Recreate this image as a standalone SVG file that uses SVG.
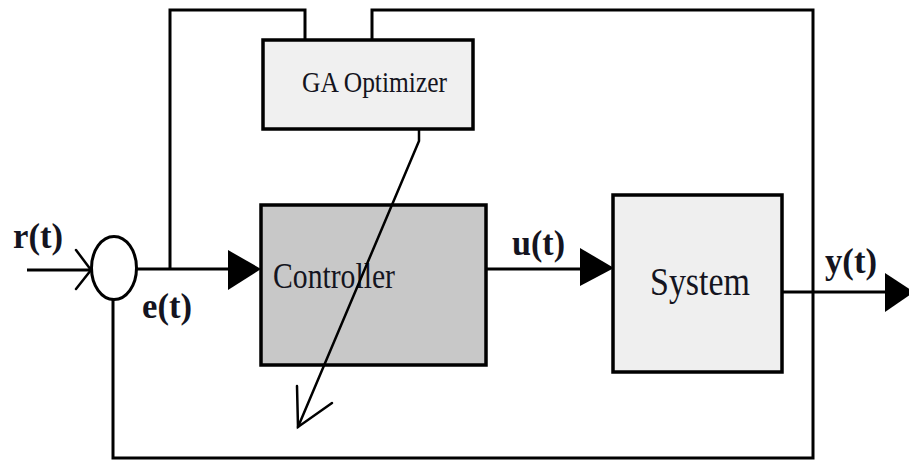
<svg xmlns="http://www.w3.org/2000/svg" width="909" height="461" viewBox="0 0 909 461">
  <style>
    .wire { fill: none; stroke: #000; stroke-width: 3; stroke-linejoin: miter; }
    .thin { fill: none; stroke: #000; stroke-width: 2.5; stroke-linecap: round; }
    .box { stroke: #000; stroke-width: 3.5; }
    .head { fill: #000; }
    .name { font-family: "Liberation Serif", "Times New Roman", serif; fill: #141420; }
    .sig { font-family: "Liberation Serif", "Times New Roman", serif; font-weight: bold; font-size: 36px; fill: #141420; }
  </style>
  <rect width="909" height="461" fill="#fff"/>

  <!-- connectors -->
  <g id="connectors">
    <!-- r(t) into summing junction -->
    <path class="wire" d="M27 270 H91"/>
    <path class="thin" d="M76 250 L91 270 L76 289"/>
    <!-- e(t) from junction to controller -->
    <path class="wire" d="M136 269 H230"/>
    <polygon class="head" points="228,250 261,269 228,290"/>
    <!-- e(t) tapped up to the optimizer -->
    <path class="wire" d="M170 269 V10 H305 V40"/>
    <!-- y(t) fed back to the optimizer -->
    <path class="wire" d="M372 40 V10 H813 V458 H113 V299"/>
    <!-- u(t) from controller to system -->
    <path class="wire" d="M486 269 H582"/>
    <polygon class="head" points="580,248 614,268 580,286"/>
    <!-- y(t) output -->
    <path class="wire" d="M775 292 H888"/>
    <polygon class="head" points="885,273 914,292 885,312"/>
  </g>

  <!-- summing junction -->
  <g id="sum">
    <ellipse cx="114" cy="268" rx="22.5" ry="31.5" fill="#fff" stroke="#000" stroke-width="3"/>
  </g>

  <!-- GA optimizer -->
  <g id="ga-optimizer">
    <rect class="box" x="263" y="40" width="210" height="89" fill="#f0f0f0"/>
    <text class="name" x="302" y="92" font-size="29" textLength="145" lengthAdjust="spacingAndGlyphs">GA Optimizer</text>
  </g>

  <!-- controller -->
  <g id="controller">
    <rect class="box" x="261" y="205" width="225" height="160" fill="#c8c8c8"/>
    <text class="name" x="273" y="288" font-size="35" textLength="122" lengthAdjust="spacingAndGlyphs">Controller</text>
  </g>

  <!-- system -->
  <g id="system">
    <rect class="box" x="613" y="195" width="169" height="177" fill="#efefef"/>
    <text class="name" x="650" y="295" font-size="39" textLength="100" lengthAdjust="spacingAndGlyphs">System</text>
  </g>

  <!-- tuning arrow through the controller -->
  <g id="tuning">
    <path class="thin" d="M419 130 V141 L298 427"/>
    <path class="thin" d="M297 386 L298 427 L332 403"/>
  </g>

  <!-- signal labels -->
  <g id="labels">
    <text class="sig" x="13" y="248" textLength="50" lengthAdjust="spacingAndGlyphs">r(t)</text>
    <text class="sig" x="142" y="318" textLength="50" lengthAdjust="spacingAndGlyphs">e(t)</text>
    <text class="sig" x="512" y="255" textLength="53" lengthAdjust="spacingAndGlyphs">u(t)</text>
    <text class="sig" x="825" y="273" textLength="52" lengthAdjust="spacingAndGlyphs">y(t)</text>
  </g>
</svg>
